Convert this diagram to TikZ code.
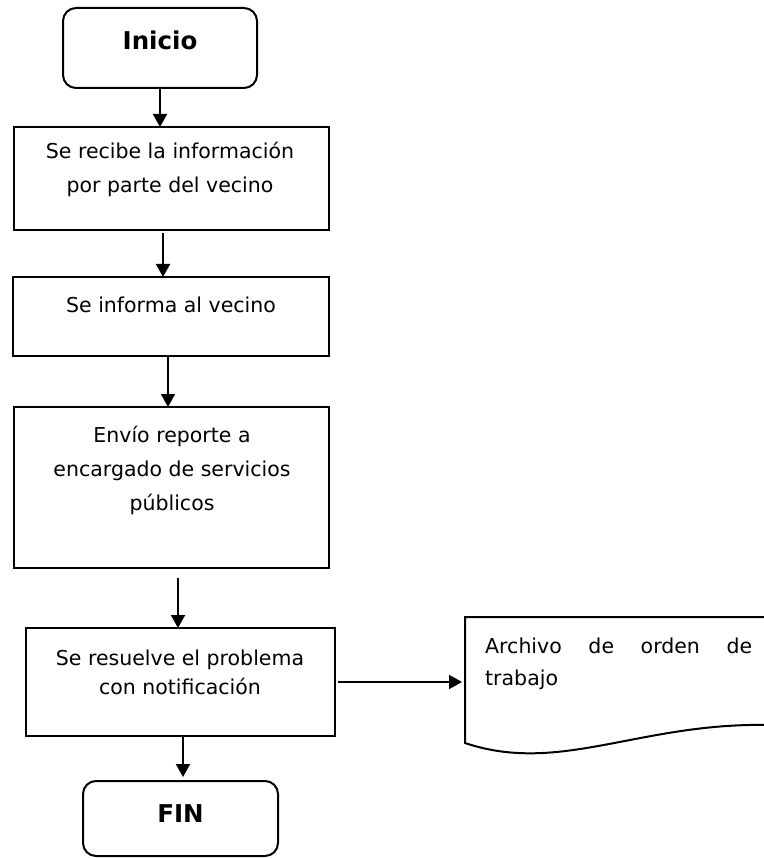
\documentclass[tikz,border=0pt]{standalone}
\usepackage{fontspec}
\setmainfont{DejaVu Sans}
\usetikzlibrary{arrows.meta}
\tikzset{
    caja/.style={draw, line width=2pt, inner sep=0pt, outer sep=0pt},
    inicio/.style={caja, rounded corners=13pt},
    flecha/.style={-{Triangle[length=13pt,width=14pt]}, line width=2pt},
    texto/.style={align=center, font=\fontsize{20.5}{34}\selectfont, anchor=base, inner sep=0pt},
    titulo/.style={font=\fontsize{24.5}{30}\selectfont\bfseries, anchor=base, inner sep=0pt}
}
\begin{document}
\begin{tikzpicture}[x=1pt,y=-1pt]
        \useasboundingbox (0,0) rectangle (763,858);
        \node[inicio, minimum width=194pt, minimum height=80pt] (I) at (160,48) {};
        \node[caja, minimum width=315pt, minimum height=103pt] (A) at (171.5,178.5) {};
        \node[caja, minimum width=316pt, minimum height=79pt] (B) at (171,316.5) {};
        \node[caja, minimum width=315pt, minimum height=161pt] (C) at (171.5,487.5) {};
        \node[caja, minimum width=309pt, minimum height=108pt] (D) at (180.5,682) {};
        \node[inicio, minimum width=195pt, minimum height=75pt] (F) at (180.5,818.5) {};
        \coordinate (E) at (465,682);
        \draw[line width=2pt] (770,617) -- (465,617) -- (465,743) .. controls (560,775) and (640,722) .. (770,725);
        \node[titulo] (tI) at (160,50) {Inicio};
        \node[texto] (tA) at (170,193) {Se recibe la información\\por parte del vecino};
        \node[texto] (tB) at (171,312) {Se informa al vecino};
        \node[texto] (tC) at (172,510) {Envío reporte a\\encargado de servicios\\públicos};
        \node[texto, font=\fontsize{20.5}{29}\selectfont] (tD) at (180,694) {Se resuelve el problema\\con notificación};
        \node[texto, align=justify, anchor=base west, text width=267pt, font=\fontsize{20.5}{32}\selectfont] (tE) at (485,653) {Archivo de orden de\linebreak trabajo};
        \node[titulo] (tF) at (180.5,822) {FIN};
        \draw[flecha] (I.south) -- ([xshift=-11.5pt]A.north);
        \draw[flecha] ([xshift=-8.5pt,yshift=-3pt]A.south) -- ([xshift=-8pt]B.north);
        \draw[flecha] ([xshift=-3pt]B.south) -- ([xshift=-3.5pt]C.north);
        \draw[flecha] ([xshift=6.5pt,yshift=-10pt]C.south) -- ([xshift=-2.5pt]D.north);
        \draw[flecha] ([xshift=3pt]D.east) -- ([xshift=-3pt]E);
        \draw[flecha] ([xshift=2.5pt]D.south) -- ([xshift=2.5pt,yshift=4pt]F.north);
    \end{tikzpicture}
\end{document}
